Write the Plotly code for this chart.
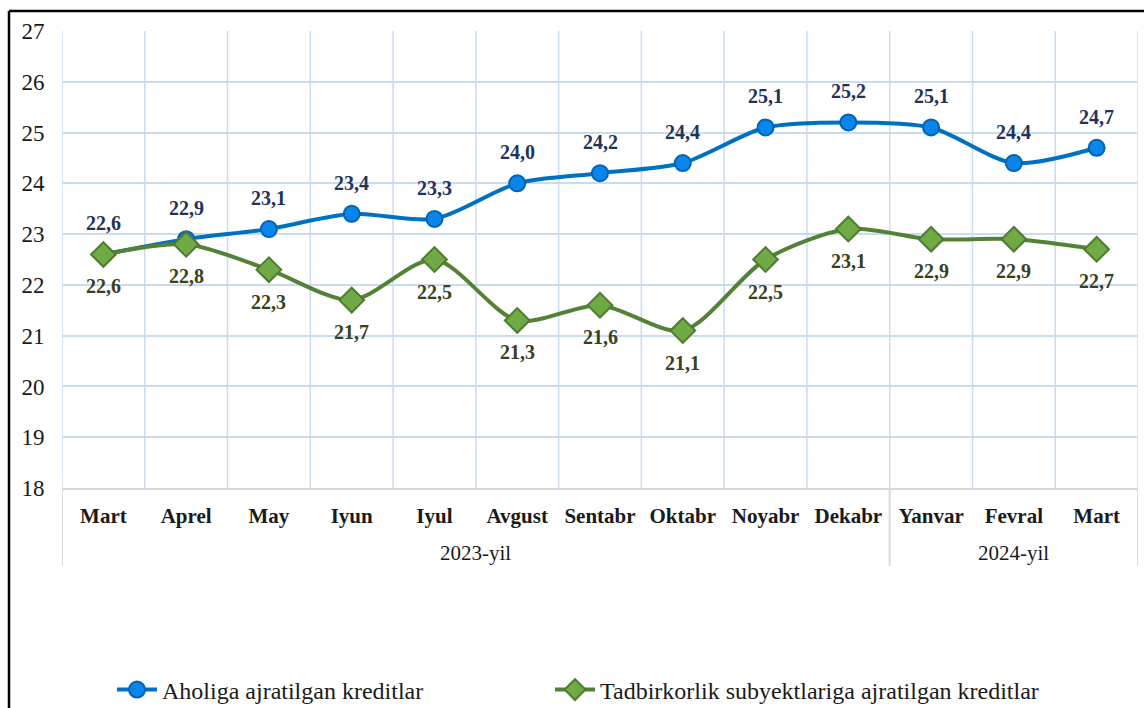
import plotly.graph_objects as go

years = ["2023-yil", "2024-yil"]
year_counts = [10, 3]
months = ["Mart", "Aprel", "May", "Iyun", "Iyul", "Avgust", "Sentabr", "Oktabr",
          "Noyabr", "Dekabr", "Yanvar", "Fevral", "Mart"]
aholi = [22.6, 22.9, 23.1, 23.4, 23.3, 24.0, 24.2, 24.4, 25.1, 25.2, 25.1, 24.4, 24.7]
tadbir = [22.6, 22.8, 22.3, 21.7, 22.5, 21.3, 21.6, 21.1, 22.5, 23.1, 22.9, 22.9, 22.7]
name_aholi = "Aholiga ajratilgan kreditlar"
name_tadbir = "Tadbirkorlik subyektlariga ajratilgan kreditlar"

W, H = 1144, 708
ML, MR, MT, MB = 62, 6, 31, 220
PW, PH = W - ML - MR, H - MT - MB

FONT = "Liberation Serif, Times New Roman, serif"
GRID = "#C9DCF2"
AXIS = "#D9D9D9"
xs = list(range(len(months)))

fig = go.Figure()
fig.add_trace(go.Scatter(
    x=xs, y=aholi, name=name_aholi, mode="lines+markers", legend="legend",
    line=dict(color="#0070C0", width=4, shape="spline", smoothing=0.8),
    marker=dict(symbol="circle", size=16, color="#0A86EA",
                line=dict(color="#0064B4", width=2)),
))
fig.add_trace(go.Scatter(
    x=xs, y=tadbir, name=name_tadbir, mode="lines+markers", legend="legend2",
    line=dict(color="#538135", width=4, shape="spline", smoothing=0.8),
    marker=dict(symbol="diamond", size=19, color="#6FAA45",
                line=dict(color="#4E7A32", width=2)),
))

def fmt(v):
    return ("%.1f" % v).replace(".", ",")

annotations = []
for i, v in enumerate(aholi):
    annotations.append(dict(x=i, y=v, xref="x", yref="y", text="<b>%s</b>" % fmt(v),
                            showarrow=False, yshift=31,
                            font=dict(family=FONT, size=20, color="#1F3358")))
for i, v in enumerate(tadbir):
    annotations.append(dict(x=i, y=v, xref="x", yref="y", text="<b>%s</b>" % fmt(v),
                            showarrow=False, yshift=-32,
                            font=dict(family=FONT, size=20, color="#3A3F1E")))

shapes = []
# vertical gridlines at category boundaries
for i in range(len(months) + 1):
    shapes.append(dict(type="line", xref="x", yref="paper", x0=i - 0.5, x1=i - 0.5,
                       y0=0, y1=1, layer="below", line=dict(color=GRID, width=1.5)))
# group dividers and year labels
div_bottom = -78 / PH
start = 0
bounds = [-0.5]
for yname, cnt in zip(years, year_counts):
    annotations.append(dict(x=start + (cnt - 1) / 2, y=-65 / PH, xref="x", yref="paper",
                            text=yname, showarrow=False, yanchor="middle",
                            font=dict(family=FONT, size=21, color="#1a1a1a")))
    start += cnt
    bounds.append(start - 0.5)
for b in bounds:
    shapes.append(dict(type="line", xref="x", yref="paper", x0=b, x1=b,
                       y0=0, y1=div_bottom, line=dict(color=AXIS, width=2)))

# outer frame (top and left edges of the picture border)
fx = (9 - ML) / PW
fy_top = (H - MB - 11) / PH
fy_bot = (H - MB - H) / PH
shapes += [
    dict(type="line", xref="paper", yref="paper", x0=fx, x1=(W - ML) / PW,
         y0=fy_top, y1=fy_top, line=dict(color="black", width=2.5)),
    dict(type="line", xref="paper", yref="paper", x0=fx, x1=fx,
         y0=fy_top, y1=fy_bot, line=dict(color="black", width=2.5)),
]

legend_y = (H - MB - 690) / PH
legend_font = dict(family=FONT, size=24, color="#1a1a1a")
fig.update_layout(
    width=W, height=H,
    margin=dict(l=ML, r=MR, t=MT, b=MB, autoexpand=False),
    paper_bgcolor="white", plot_bgcolor="white",
    font=dict(family=FONT, size=21, color="#1a1a1a"),
    showlegend=True,
    legend=dict(orientation="h", x=(112 - ML) / PW, xanchor="left", y=legend_y,
                yanchor="middle", font=legend_font, itemwidth=40),
    legend2=dict(orientation="h", x=(550 - ML) / PW, xanchor="left", y=legend_y,
                 yanchor="middle", font=legend_font, itemwidth=40),
    annotations=annotations,
    shapes=shapes,
)
fig.update_xaxes(
    range=[-0.5, len(months) - 0.5], tickvals=xs,
    ticktext=["<b>%s</b>" % m for m in months],
    showgrid=False, zeroline=False,
    showline=True, linecolor=AXIS, linewidth=2,
    ticks="outside", ticklen=8, tickcolor="rgba(0,0,0,0)",
    tickfont=dict(family=FONT, size=21, color="#1a1a1a"),
)
fig.update_yaxes(
    range=[18, 27], dtick=1, tick0=18, showgrid=True, gridcolor=GRID, gridwidth=1.5,
    zeroline=False, showline=False, ticks="outside", ticklen=12, tickcolor="rgba(0,0,0,0)",
    tickfont=dict(family=FONT, size=23, color="#1a1a1a"),
)

fig.write_html("out.html", config={"displayModeBar": False},
               post_script="document.body.style.margin='0';document.body.style.padding='0';")
